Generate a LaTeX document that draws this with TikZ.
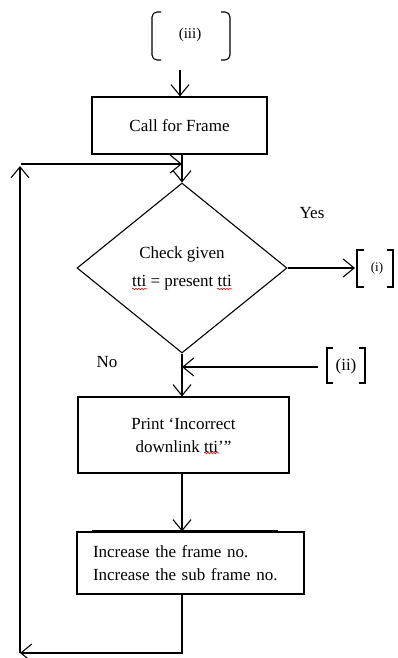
\documentclass[tikz,border=0pt]{standalone}
\usepackage{fontspec}
\setmainfont{Liberation Serif}
\usetikzlibrary{shapes.geometric,arrows.meta,decorations.pathmorphing}
\begin{document}
\begin{tikzpicture}[x=1pt,y=-1pt,
  every node/.style={font=\fontsize{17}{23}\selectfont},
  flow/.style={draw, line width=1.1pt, -{Straight Barb[length=11pt,width=18pt,line width=1.1pt]}},
  procbox/.style={draw, line width=1.1pt, rectangle, inner sep=0pt, align=center},
  decision/.style={draw, line width=1.1pt, diamond, aspect=1.235, minimum width=210pt, minimum height=170pt, inner sep=0pt, align=center, font=\fontsize{17}{28}\selectfont},
  brk/.style={draw, line width=1.1pt},
  lbl/.style={inner sep=0pt},
  spell/.style={draw=red!80!black, line width=0.6pt, decorate, decoration={snake, amplitude=0.7pt, segment length=3pt}}
]
\useasboundingbox (0,0) rectangle (398,658);

% (iii) connector
\node[lbl, font=\fontsize{15}{18}\selectfont] (iii) at (190,35) {(iii)};
\draw[brk, rounded corners=5pt] (161,12) -- (152,12) -- (152,60) -- (161,60);
\draw[brk, rounded corners=5pt] (221,12) -- (230,12) -- (230,60) -- (221,60);
\coordinate (iiiout) at (180,70);

\node[procbox, minimum width=175pt, minimum height=57pt] (call) at (179.5,125.5) {Call for Frame};
\draw[flow] (iiiout) -- (iiiout |- call.north);

\node[decision] (chk) at (182,268) {Check given\\tti = present tti};
\draw[flow] (chk.north |- call.south) -- (chk.north);
\draw[spell] (132,289) -- (147,289);
\draw[spell] (217,289) -- (232,289);

% yes branch
\node[lbl] (yes) at (312,213) {Yes};
\node[lbl, font=\fontsize{13}{15}\selectfont] (i) at (377,268) {(i)};
\draw[brk] (364,250) -- (357,250) -- (357,287) -- (364,287);
\draw[brk] (387,250) -- (393,250) -- (393,287) -- (387,287);
\coordinate (iin) at (355,268);
\draw[flow] (chk.east) -- (iin);

% (ii) connector
\node[lbl] (ii) at (346,366) {(ii)};
\draw[brk] (333,348) -- (327,348) -- (327,383) -- (333,383);
\draw[brk] (359,348) -- (365,348) -- (365,383) -- (359,383);
\coordinate (iiout) at (318,367);
\draw[flow] (iiout) -- (iiout -| chk.south);

% no branch
\node[lbl] (no) at (107,362) {No};
\node[procbox, minimum width=211pt, minimum height=76pt] (prt) at (183.5,435) {Print ‘Incorrect\\downlink tti’”};
\draw[spell] (204,453) -- (219,453);
\draw[flow] (chk.south) -- (chk.south |- prt.north);

\node[draw, line width=1.1pt, rectangle, inner xsep=16pt, inner ysep=0pt, text width=195pt, minimum height=62pt, align=left] (inc) at (190.5,563) {Increase the frame no.\\Increase the sub frame no.};
\draw[line width=2.6pt] ([xshift=16pt]inc.north west) -- ([xshift=-27pt]inc.north east);
\draw[flow] (chk.south |- prt.south) -- (chk.south |- inc.north);

% loop back
\coordinate (loopBL) at (20,653);
\coordinate (loopTL) at (20,166);
\coordinate (loopTS) at (21,164);
\draw[flow] (chk.south |- inc.south) -- (chk.south |- loopBL) -- (loopBL);
\draw[flow] (loopBL) -- (loopTL);
\draw[flow] (loopTS) -- (loopTS -| chk.north);
\end{tikzpicture}
\end{document}
